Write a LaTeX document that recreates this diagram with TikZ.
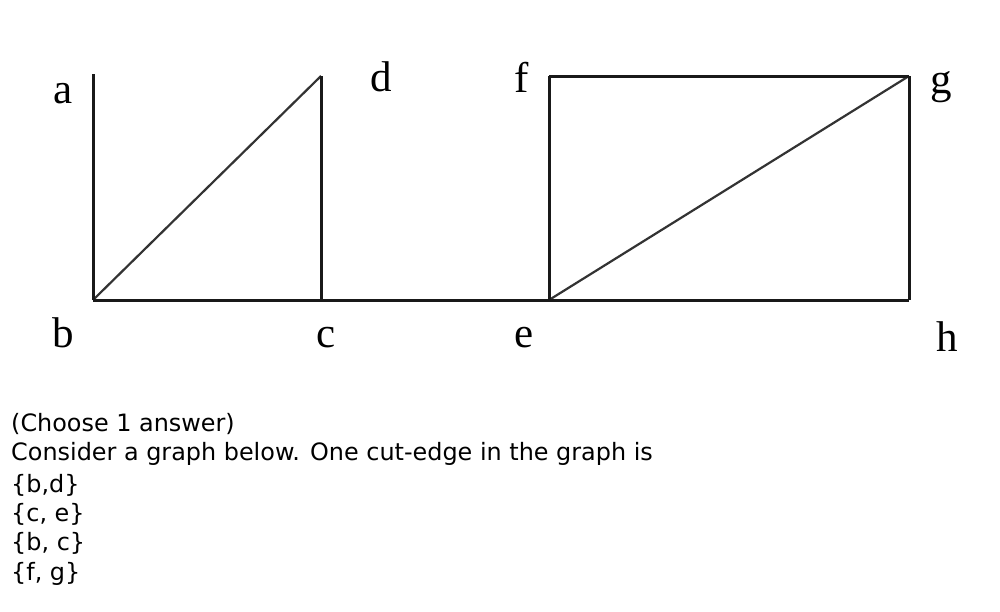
\documentclass[tikz,border=0pt]{standalone}
\usepackage{fontspec}
\setmainfont{Liberation Serif}
\newfontfamily\qfont{DejaVu Sans}
\begin{document}
\begin{tikzpicture}[x=1pt,y=-1pt,
  edgeline/.style={line width=3pt,black!90},
  diagline/.style={line width=2.2pt,black!80},
  vlabel/.style={anchor=base,inner sep=0pt,font=\fontsize{43}{48}\selectfont},
  qline/.style={anchor=base west,inner sep=0pt,font=\qfont\fontsize{23.9}{29}\selectfont}]
\useasboundingbox[fill=white] (0,0) rectangle (1000,611);
% vertices
\coordinate (a) at (93,74);
\coordinate (b) at (93,300);
\coordinate (c) at (321,300);
\coordinate (d) at (321,76);
\coordinate (e) at (549,300);
\coordinate (f) at (549,76);
\coordinate (g) at (909,76);
\coordinate (h) at (909,300);
% edges
\draw[diagline] (b) -- (d);
\draw[diagline] (e) -- (g);
\draw[edgeline] (a) -- (b);
\draw[edgeline] (b) -- (c);
\draw[edgeline] (c) -- (d);
\draw[edgeline] (c) -- (e);
\draw[edgeline] (e) -- (f);
\draw[edgeline] (f) -- (g);
\draw[edgeline] (g) -- (h);
\draw[edgeline] (e) -- (h);
% labels
\node[vlabel] (la) at (63,103) {a};
\node[vlabel] (ld) at (381,91) {d};
\node[vlabel] (lf) at (522,92) {f};
\node[vlabel] (lg) at (941,93) {g};
\node[vlabel] (lb) at (63,347) {b};
\node[vlabel] (lc) at (326,347) {c};
\node[vlabel] (le) at (524,347) {e};
\node[vlabel] (lh) at (947,351) {h};
% question text
\node[qline] (q1) at (11,431) {(Choose 1 answer)};
\node[qline] (q2) at (11,460) {Consider a graph below. One cut-edge in the graph is};
\node[qline] (q3) at (11,492) {\{b,d\}};
\node[qline] (q4) at (11,521) {\{c, e\}};
\node[qline] (q5) at (11,550) {\{b, c\}};
\node[qline] (q6) at (11,580) {\{f, g\}};
\end{tikzpicture}
\end{document}
